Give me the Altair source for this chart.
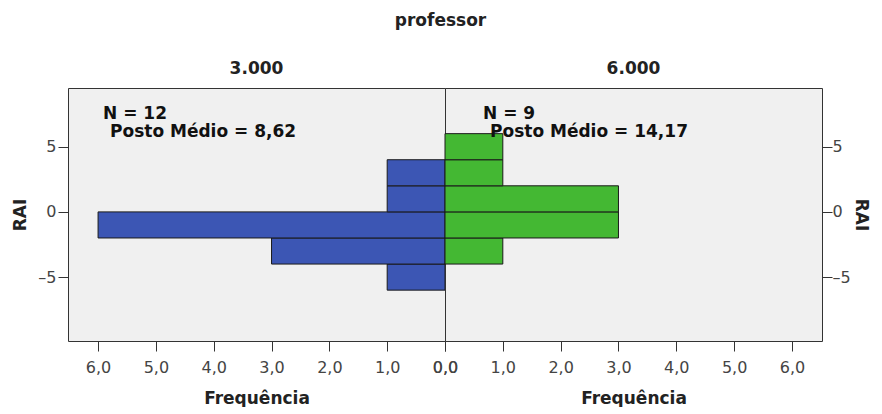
import altair as alt
import pandas as pd

bin_start = [-6, -4, -2, 0, 2, 4]
bin_end = [-4, -2, 0, 2, 4, 6]
freq_left = [1, 3, 6, 1, 1, 0]
freq_right = [0, 1, 3, 3, 1, 1]
panel_titles = ["3.000", "6.000"]
n_texts = ["N = 12", "N = 9"]
rank_texts = ["Posto Médio = 8,62", "Posto Médio = 14,17"]
x_ticks = [0, 1, 2, 3, 4, 5, 6]
y_ticks = [-5, 0, 5]

FONT = "DejaVu Sans"
W, H = 377, 253

Y_LABEL = "datum.value < 0 ? '\u2013' + abs(datum.value) : '' + datum.value"


def panel(freqs, color, reverse, orient, n_text, rank_text, title, tx):
    df = pd.DataFrame({"lo": bin_start, "hi": bin_end, "f": freqs, "z": [0] * len(freqs)})
    df = df[df["f"] > 0]
    xscale = alt.Scale(domain=[0, 6.52], reverse=reverse, nice=False)
    yscale = alt.Scale(domain=[-9.9, 9.5], nice=False)
    xaxis = alt.Axis(values=x_ticks,
                     labelExpr="replace(format(datum.value, '.1f'), '.', ',')",
                     title="Frequência", grid=False, domain=False,
                     tickSize=10, labelPadding=8, titlePadding=15,
                     labelFlush=False)
    yaxis = alt.Axis(orient=orient, values=y_ticks, title="RAI", grid=False,
                     domain=False, tickSize=10, labelExpr=Y_LABEL,
                     labelPadding=2 if orient == "left" else 0,
                     titlePadding=8 if orient == "left" else 1)
    bars = alt.Chart(df).mark_bar(fill=color, stroke="#1a1a1a", strokeWidth=1).encode(
        x=alt.X("f:Q", scale=xscale, axis=xaxis),
        x2="z",
        y=alt.Y("lo:Q", scale=yscale, axis=yaxis),
        y2="hi",
    )
    t1 = alt.Chart(pd.DataFrame({"t": [n_text]})).mark_text(
        align="left", baseline="alphabetic", font=FONT, fontSize=17,
        fontWeight="bold", color="#111"
    ).encode(text="t:N", x=alt.value(tx), y=alt.value(31))
    t2 = alt.Chart(pd.DataFrame({"t": [rank_text]})).mark_text(
        align="left", baseline="alphabetic", font=FONT, fontSize=17,
        fontWeight="bold", color="#111"
    ).encode(text="t:N", x=alt.value(tx + 7), y=alt.value(49))
    return alt.layer(bars, t1, t2).properties(
        width=W, height=H,
        title=alt.TitleParams(title, font=FONT, fontSize=17, fontWeight="bold",
                              color="#222", offset=10, anchor="middle"),
    )


left = panel(freq_left, "#3c56b4", True, "left", n_texts[0], rank_texts[0], panel_titles[0], 35)
right = panel(freq_right, "#44b833", False, "right", n_texts[1], rank_texts[1], panel_titles[1], 38)

chart = alt.hconcat(left, right, spacing=0, bounds="flush").properties(
    title=alt.TitleParams("professor", font=FONT, fontSize=17, fontWeight="bold",
                          color="#222", offset=30, anchor="middle"),
    padding={"left": 3, "top": 3, "right": 3, "bottom": 0},
).configure_view(
    fill="#f0f0f0", stroke="#333333", strokeWidth=1
).configure_axis(
    labelFont=FONT, labelFontSize=16, labelColor="#444444",
    titleFont=FONT, titleFontSize=17, titleColor="#222222", titleFontWeight="bold",
    tickColor="#333333"
)

chart.save("out.html", embed_options={"renderer": "svg", "actions": False})
